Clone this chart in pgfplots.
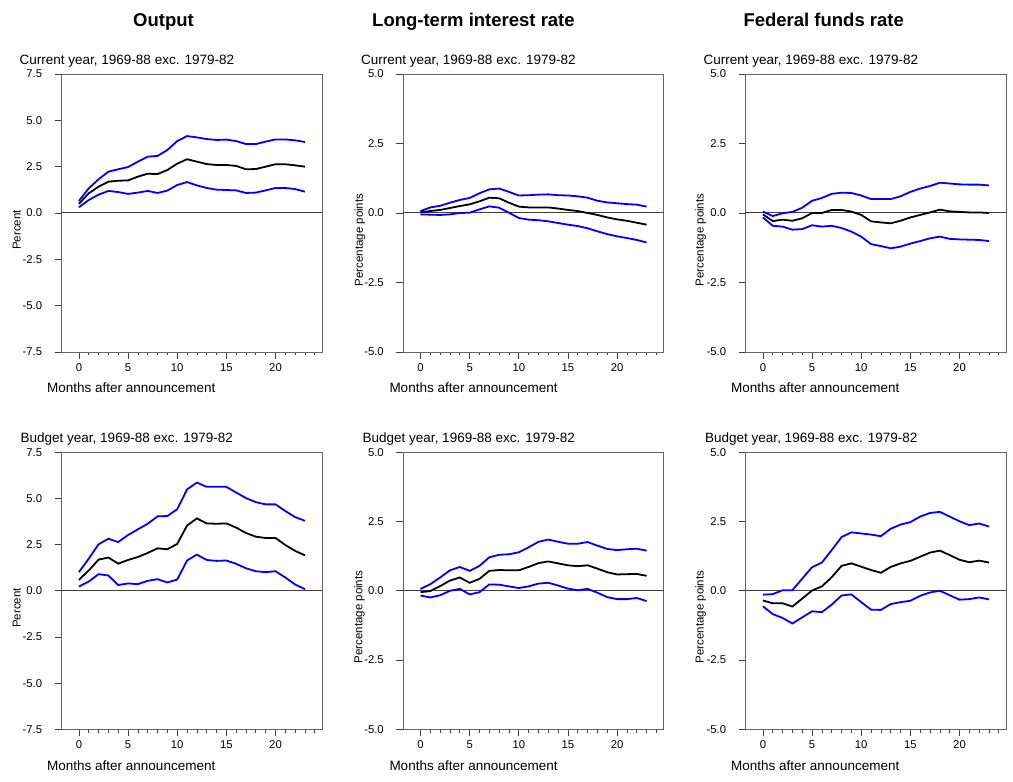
\documentclass[border=0pt]{standalone}
\usepackage{fontspec}
\setmainfont{Liberation Sans}
\usepackage{pgfplots}
\usepackage{pgfplotstable}
\pgfplotsset{compat=1.18}

\pgfplotstableread{
m lo mid hi
0 0.31 0.49 0.65
1 0.70 1.06 1.33
2 0.99 1.42 1.82
3 1.19 1.69 2.23
4 1.13 1.74 2.36
5 1.03 1.76 2.48
6 1.10 1.96 2.77
7 1.19 2.12 3.04
8 1.08 2.10 3.08
9 1.21 2.32 3.40
10 1.51 2.66 3.88
11 1.67 2.90 4.15
12 1.49 2.77 4.08
13 1.35 2.64 3.99
14 1.26 2.59 3.94
15 1.24 2.59 3.96
16 1.22 2.54 3.88
17 1.08 2.36 3.72
18 1.10 2.37 3.72
19 1.22 2.50 3.85
20 1.35 2.63 3.97
21 1.35 2.63 3.97
22 1.29 2.57 3.92
23 1.15 2.50 3.83
}\OutCur

\pgfplotstableread{
m lo mid hi
0 -0.05 0.02 0.07
1 -0.06 0.07 0.20
2 -0.07 0.11 0.26
3 -0.05 0.18 0.37
4 0.00 0.25 0.47
5 0.01 0.31 0.54
6 0.13 0.42 0.71
7 0.24 0.55 0.85
8 0.19 0.53 0.88
9 0.01 0.37 0.76
10 -0.18 0.23 0.63
11 -0.24 0.20 0.64
12 -0.26 0.20 0.66
13 -0.30 0.20 0.67
14 -0.36 0.16 0.64
15 -0.42 0.11 0.63
16 -0.47 0.07 0.60
17 -0.55 0.00 0.55
18 -0.66 -0.07 0.44
19 -0.76 -0.16 0.38
20 -0.84 -0.23 0.35
21 -0.90 -0.28 0.32
22 -0.97 -0.35 0.30
23 -1.06 -0.42 0.23
}\LTCur

\pgfplotstableread{
m lo mid hi
0 -0.16 -0.05 0.05
1 -0.46 -0.29 -0.11
2 -0.49 -0.24 -0.01
3 -0.60 -0.28 0.04
4 -0.58 -0.19 0.19
5 -0.44 0.00 0.44
6 -0.49 0.00 0.54
7 -0.46 0.11 0.69
8 -0.54 0.11 0.73
9 -0.67 0.05 0.72
10 -0.85 -0.07 0.63
11 -1.12 -0.30 0.50
12 -1.19 -0.34 0.50
13 -1.27 -0.37 0.50
14 -1.21 -0.28 0.60
15 -1.10 -0.16 0.76
16 -1.01 -0.07 0.88
17 -0.91 0.02 0.97
18 -0.85 0.12 1.09
19 -0.93 0.06 1.06
20 -0.95 0.04 1.03
21 -0.96 0.02 1.02
22 -0.97 0.02 1.02
23 -1.01 0.00 0.99
}\FFCur

\pgfplotstableread{
m lo mid hi
0 0.23 0.59 1.01
1 0.50 1.10 1.74
2 0.90 1.69 2.52
3 0.83 1.80 2.82
4 0.31 1.47 2.64
5 0.40 1.67 3.02
6 0.36 1.83 3.33
7 0.54 2.05 3.63
8 0.63 2.30 4.03
9 0.45 2.25 4.05
10 0.61 2.54 4.42
11 1.64 3.53 5.49
12 1.96 3.92 5.86
13 1.67 3.65 5.63
14 1.62 3.63 5.63
15 1.64 3.65 5.63
16 1.46 3.42 5.32
17 1.22 3.13 5.02
18 1.06 2.93 4.80
19 1.01 2.86 4.68
20 1.06 2.86 4.68
21 0.72 2.48 4.32
22 0.34 2.16 3.99
23 0.09 1.92 3.79
}\OutBud

\pgfplotstableread{
m lo mid hi
0 -0.17 -0.05 0.07
1 -0.24 -0.01 0.24
2 -0.16 0.17 0.48
3 0.00 0.37 0.74
4 0.07 0.48 0.86
5 -0.13 0.29 0.72
6 -0.05 0.43 0.90
7 0.23 0.72 1.21
8 0.22 0.75 1.30
9 0.16 0.74 1.32
10 0.10 0.74 1.39
11 0.16 0.86 1.57
12 0.26 1.00 1.77
13 0.29 1.06 1.85
14 0.19 0.99 1.77
15 0.08 0.92 1.70
16 0.02 0.89 1.70
17 0.07 0.92 1.76
18 -0.07 0.80 1.63
19 -0.23 0.67 1.51
20 -0.30 0.59 1.47
21 -0.30 0.60 1.50
22 -0.26 0.61 1.52
23 -0.37 0.54 1.45
}\LTBud

\pgfplotstableread{
m lo mid hi
0 -0.56 -0.35 -0.14
1 -0.84 -0.45 -0.12
2 -0.98 -0.45 0.02
3 -1.18 -0.57 0.02
4 -0.96 -0.28 0.44
5 -0.74 0.01 0.85
6 -0.77 0.16 1.02
7 -0.50 0.49 1.47
8 -0.17 0.90 1.94
9 -0.13 0.99 2.11
10 -0.41 0.87 2.07
11 -0.68 0.75 2.03
12 -0.69 0.65 1.97
13 -0.48 0.86 2.24
14 -0.41 0.99 2.39
15 -0.36 1.08 2.48
16 -0.18 1.23 2.68
17 -0.06 1.38 2.81
18 0.00 1.45 2.85
19 -0.16 1.29 2.68
20 -0.32 1.12 2.51
21 -0.30 1.03 2.37
22 -0.24 1.09 2.43
23 -0.31 1.02 2.32
}\FFBud

\pgfplotsset{
  panel/.style={
    scale only axis, width=260.5pt, anchor=south west,
    xmin=-1.75, xmax=24.75,
    xtick={0,5,10,15,20}, xticklabels={0,5,10,15,20},
    minor xtick={1,2,3,4,6,7,8,9,11,12,13,14,16,17,18,19,21,22,23,24},
    tick align=outside, xtick pos=bottom, ytick pos=left,
    major tick length=7pt, minor tick length=3.5pt,
    axis line style={black!60, line width=0.8pt},
    tick style={black!75, line width=0.7pt},
    ticklabel style={font=\fontsize{11.3}{13}\selectfont},
    yticklabel style={xshift=-9pt},
    xticklabel style={yshift=-1pt},
    extra y ticks={0}, extra y tick labels={},
    extra y tick style={grid=major, major grid style={black!75, line width=1pt}},
  },
  outy/.style={ymin=-7.5, ymax=7.5, ytick={-7.5,-5,-2.5,0,2.5,5,7.5},
    yticklabels={-7.5,-5.0,-2.5,0.0,2.5,5.0,7.5}},
  ratey/.style={ymin=-5, ymax=5, ytick={-5,-2.5,0,2.5,5},
    yticklabels={-5.0,-2.5,0.0,2.5,5.0}},
  bl/.style={blue, line width=1.8pt},
  bk/.style={black, line width=1.8pt},
}

\newcommand{\threelines}[1]{%
  \addplot[bl] table[x=m,y=hi] {#1};
  \addplot[bl] table[x=m,y=lo] {#1};
  \addplot[bk] table[x=m,y=mid] {#1};
}

\begin{document}
\begin{tikzpicture}[x=1pt,y=1pt]
\useasboundingbox (0,0) rectangle (1013,782);

% top row
\begin{axis}[panel, outy, at={(61.7pt,430pt)}, height=278pt]
\threelines{\OutCur}
\end{axis}
\begin{axis}[panel, ratey, at={(403.3pt,430pt)}, height=278pt]
\threelines{\LTCur}
\end{axis}
\begin{axis}[panel, ratey, at={(745.7pt,430pt)}, height=278pt]
\threelines{\FFCur}
\end{axis}

% bottom row
\begin{axis}[panel, outy, at={(61.7pt,52.7pt)}, height=277pt]
\threelines{\OutBud}
\end{axis}
\begin{axis}[panel, ratey, at={(403.3pt,52.7pt)}, height=277pt]
\threelines{\LTBud}
\end{axis}
\begin{axis}[panel, ratey, at={(745.7pt,52.7pt)}, height=277pt]
\threelines{\FFBud}
\end{axis}

% column titles
\begin{scope}[every node/.style={anchor=base west, inner sep=0pt, font=\bfseries\fontsize{18.5}{21}\selectfont}]
\node at (133,755.5) {Output};
\node at (372,755.5) {Long-term interest rate};
\node at (743.3,755.5) {Federal funds rate};
\end{scope}

% subtitles
\begin{scope}[every node/.style={anchor=base west, inner sep=0pt, font=\fontsize{13.5}{15}\selectfont}]
\node at (19.5,717) {Current year, 1969-88 exc. 1979-82};
\node at (361,717) {Current year, 1969-88 exc. 1979-82};
\node at (703.5,717) {Current year, 1969-88 exc. 1979-82};
\node at (20.5,339) {Budget year, 1969-88 exc. 1979-82};
\node at (362.5,339) {Budget year, 1969-88 exc. 1979-82};
\node at (705,339) {Budget year, 1969-88 exc. 1979-82};
% x labels
\node at (47,389) {Months after announcement};
\node at (389.3,389) {Months after announcement};
\node at (731,389) {Months after announcement};
\node at (47,11) {Months after announcement};
\node at (389.3,11) {Months after announcement};
\node at (731,11) {Months after announcement};
\end{scope}

% y labels
\begin{scope}[every node/.style={rotate=90, anchor=center, inner sep=0pt, font=\fontsize{11.5}{13}\selectfont}]
\node at (16.7,552) {Percent};
\node at (360,542) {Percentage points};
\node at (700.7,542) {Percentage points};
\node at (16.7,174) {Percent};
\node at (359.3,165) {Percentage points};
\node at (700.7,165) {Percentage points};
\end{scope}
\end{tikzpicture}
\end{document}
